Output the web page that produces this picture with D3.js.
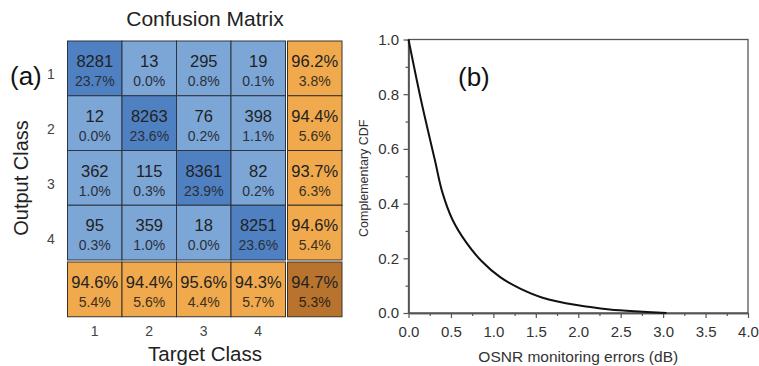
<!DOCTYPE html>
<html>
<head>
<meta charset="utf-8">
<script src="https://cdn.jsdelivr.net/npm/d3@7"></script>
<style>
  html, body { margin: 0; padding: 0; background: #fff; }
  svg { display: block; font-family: "Liberation Sans", Arial, sans-serif; }
</style>
</head>
<body>
<svg id="chart" width="759" height="366"></svg>
<script>
// ---------- data ----------
const classes = ["1", "2", "3", "4"];
const counts = [
  [8281, 13, 295, 19],
  [12, 8263, 76, 398],
  [362, 115, 8361, 82],
  [95, 359, 18, 8251]
];
const cellPct = [
  ["23.7%", "0.0%", "0.8%", "0.1%"],
  ["0.0%", "23.6%", "0.2%", "1.1%"],
  ["1.0%", "0.3%", "23.9%", "0.2%"],
  ["0.3%", "1.0%", "0.0%", "23.6%"]
];
const rowGood = ["96.2%", "94.4%", "93.7%", "94.6%"];
const rowBad  = ["3.8%", "5.6%", "6.3%", "5.4%"];
const colGood = ["94.6%", "94.4%", "95.6%", "94.3%"];
const colBad  = ["5.4%", "5.6%", "4.4%", "5.7%"];
const overall = ["94.7%", "5.3%"];

const cdfX = [0, 0.15, 0.31, 0.40, 0.52, 0.68, 0.86, 1.08, 1.31, 1.58, 1.98, 2.37, 2.76, 3.04];
const cdfY = [1.0, 0.775, 0.56, 0.44, 0.34, 0.258, 0.19, 0.131, 0.09, 0.056, 0.029, 0.013, 0.005, 0.0];
const xTicks = [0, 0.5, 1.0, 1.5, 2.0, 2.5, 3.0, 3.5, 4.0];
const xMinor = [0.25, 0.75, 1.25, 1.75, 2.25, 2.75, 3.25, 3.75];
const yTicks = [0, 0.2, 0.4, 0.6, 0.8, 1.0];
const yMinor = [0.1, 0.3, 0.5, 0.7, 0.9];

// ---------- styles ----------
const colDiag = "#4f80c1";
const colOff = "#7ca6d6";
const colOrange = "#f0a94c";
const colCorner = "#b8742e";
const textCol = "#222";

const svg = d3.select("#chart");

// ---------- (a) confusion matrix ----------
const mx = d3.scaleBand().domain(classes).range([67.5, 285.5]);
const my = d3.scaleBand().domain(classes).range([41, 260]);
const gap = 2;
const sx = mx.range()[1] + gap, sw = mx.bandwidth();
const sy = my.range()[1] + gap, sh = my.bandwidth();

const gA = svg.append("g");

const cells = [];
classes.forEach((r, i) => classes.forEach((c, j) => cells.push({r, c, i, j})));

const cg = gA.selectAll("g.cell").data(cells).join("g").attr("class", "cell");
cg.append("rect")
  .attr("x", d => mx(d.c)).attr("y", d => my(d.r))
  .attr("width", mx.bandwidth()).attr("height", my.bandwidth())
  .attr("fill", d => d.i === d.j ? colDiag : colOff)
  .attr("stroke", "#2d3440").attr("stroke-width", 1);
cg.append("text")
  .attr("x", d => mx(d.c) + mx.bandwidth() / 2).attr("y", d => my(d.r) + 26)
  .attr("text-anchor", "middle").attr("font-size", 16.5).attr("fill", textCol)
  .text(d => counts[d.i][d.j]);
cg.append("text")
  .attr("x", d => mx(d.c) + mx.bandwidth() / 2).attr("y", d => my(d.r) + 45)
  .attr("text-anchor", "middle").attr("font-size", 14).attr("fill", "#2a2f3a")
  .text(d => cellPct[d.i][d.j]);

// summary column
const sc = gA.selectAll("g.scol").data(classes).join("g").attr("class", "scol");
sc.append("rect")
  .attr("x", sx).attr("y", d => my(d)).attr("width", sw).attr("height", my.bandwidth())
  .attr("fill", colOrange).attr("stroke", "#3a3328").attr("stroke-width", 1);
sc.append("text").attr("x", sx + sw / 2).attr("y", d => my(d) + 26)
  .attr("text-anchor", "middle").attr("font-size", 16.5).attr("fill", textCol)
  .text((d, i) => rowGood[i]);
sc.append("text").attr("x", sx + sw / 2).attr("y", d => my(d) + 45)
  .attr("text-anchor", "middle").attr("font-size", 14).attr("fill", "#3a3020")
  .text((d, i) => rowBad[i]);

// summary row
const sr = gA.selectAll("g.srow").data(classes).join("g").attr("class", "srow");
sr.append("rect")
  .attr("x", d => mx(d)).attr("y", sy).attr("width", mx.bandwidth()).attr("height", sh)
  .attr("fill", colOrange).attr("stroke", "#3a3328").attr("stroke-width", 1);
sr.append("text").attr("x", d => mx(d) + mx.bandwidth() / 2).attr("y", sy + 26)
  .attr("text-anchor", "middle").attr("font-size", 16.5).attr("fill", textCol)
  .text((d, i) => colGood[i]);
sr.append("text").attr("x", d => mx(d) + mx.bandwidth() / 2).attr("y", sy + 45)
  .attr("text-anchor", "middle").attr("font-size", 14).attr("fill", "#3a3020")
  .text((d, i) => colBad[i]);

// corner
gA.append("rect").attr("x", sx).attr("y", sy).attr("width", sw).attr("height", sh)
  .attr("fill", colCorner).attr("stroke", "#3a3328").attr("stroke-width", 1);
gA.append("text").attr("x", sx + sw / 2).attr("y", sy + 26)
  .attr("text-anchor", "middle").attr("font-size", 16.5).attr("fill", textCol).text(overall[0]);
gA.append("text").attr("x", sx + sw / 2).attr("y", sy + 45)
  .attr("text-anchor", "middle").attr("font-size", 14).attr("fill", "#2e2214").text(overall[1]);

// row / column labels
gA.selectAll("text.rl").data(classes).join("text").attr("class", "rl")
  .attr("x", 51).attr("y", d => my(d) + my.bandwidth() / 2 + 11)
  .attr("text-anchor", "middle").attr("font-size", 14).attr("fill", "#444").text(d => d);
gA.selectAll("text.cl").data(classes).join("text").attr("class", "cl")
  .attr("x", d => mx(d) + mx.bandwidth() / 2).attr("y", 336)
  .attr("text-anchor", "middle").attr("font-size", 14).attr("fill", "#444").text(d => d);

gA.append("text").attr("x", 205).attr("y", 26).attr("text-anchor", "middle")
  .attr("font-size", 21).attr("fill", "#222").text("Confusion Matrix");
gA.append("text").attr("x", 205).attr("y", 361).attr("text-anchor", "middle")
  .attr("font-size", 20.5).attr("fill", "#222").text("Target Class");
gA.append("text").attr("transform", "translate(28,178) rotate(-90)").attr("text-anchor", "middle")
  .attr("font-size", 20).attr("fill", "#222").text("Output Class");
gA.append("text").attr("x", 10).attr("y", 85)
  .attr("font-size", 26).attr("fill", "#111").text("(a)");

// ---------- (b) complementary CDF ----------
const x = d3.scaleLinear().domain([0, 4]).range([408.5, 748]);
const y = d3.scaleLinear().domain([0, 1]).range([313, 39.5]);
const axisCol = "#555";
const gB = svg.append("g");

gB.append("rect").attr("x", x(0)).attr("y", y(1)).attr("width", x(4) - x(0)).attr("height", y(0) - y(1))
  .attr("fill", "none").attr("stroke", axisCol).attr("stroke-width", 1.3);

const xAxis = gB.append("g").attr("transform", `translate(0,${y(0)})`)
  .call(d3.axisBottom(x).tickValues(xTicks).tickFormat(d3.format(".1f")).tickSize(5).tickSizeOuter(0));
const xAxisMinor = gB.append("g").attr("transform", `translate(0,${y(0)})`)
  .call(d3.axisBottom(x).tickValues(xMinor).tickFormat("").tickSize(3).tickSizeOuter(0));
const yAxis = gB.append("g").attr("transform", `translate(${x(0)},0)`)
  .call(d3.axisLeft(y).tickValues(yTicks).tickFormat(d3.format(".1f")).tickSize(5).tickSizeOuter(0));
const yAxisMinor = gB.append("g").attr("transform", `translate(${x(0)},0)`)
  .call(d3.axisLeft(y).tickValues(yMinor).tickFormat("").tickSize(3).tickSizeOuter(0));

[xAxis, xAxisMinor, yAxis, yAxisMinor].forEach(a => {
  a.select(".domain").attr("stroke", axisCol).attr("stroke-width", 1.3);
  a.selectAll(".tick line").attr("stroke", axisCol).attr("stroke-width", 1.2);
  a.selectAll(".tick text").attr("font-size", 15).attr("fill", "#333")
    .attr("font-family", "'Liberation Sans', Arial, sans-serif");
});
xAxis.selectAll(".tick text").attr("dy", "1.05em");
yAxis.selectAll(".tick text").attr("dx", "-0.1em");

const line = d3.line().x((d, i) => x(cdfX[i])).y(d => y(d)).curve(d3.curveCatmullRom.alpha(0.5));
gB.append("path").datum(cdfY).attr("d", line)
  .attr("fill", "none").attr("stroke", "#111").attr("stroke-width", 2);

gB.append("text").attr("transform", `translate(368,${(y(0) + y(1)) / 2 + 2}) rotate(-90)`)
  .attr("text-anchor", "middle").attr("font-size", 12.5).attr("fill", "#333").text("Complementary CDF");
gB.append("text").attr("x", (x(0) + x(4)) / 2).attr("y", 362).attr("text-anchor", "middle")
  .attr("font-size", 15.5).attr("fill", "#333").text("OSNR monitoring errors (dB)");
gB.append("text").attr("x", 458).attr("y", 86)
  .attr("font-size", 26).attr("fill", "#111").text("(b)");
</script>
</body>
</html>
